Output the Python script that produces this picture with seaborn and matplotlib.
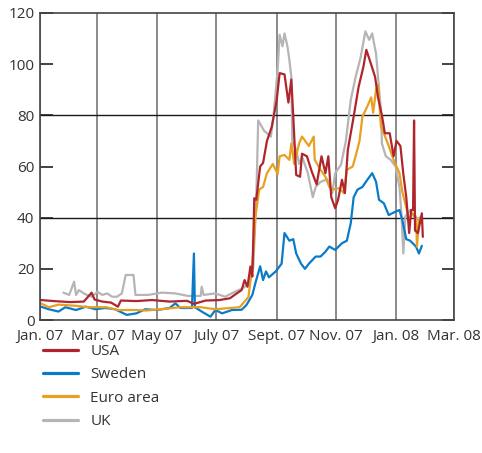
import matplotlib
matplotlib.use("Agg")
import matplotlib.pyplot as plt
import pandas as pd
import seaborn as sns

# --- data (values in basis points) ---
usa_dates = ["2007-01-02", "2007-01-15", "2007-02-01", "2007-02-15", "2007-02-23", "2007-02-26",
             "2007-03-06", "2007-03-15", "2007-03-22", "2007-03-25", "2007-04-10", "2007-04-26",
             "2007-05-14", "2007-06-01", "2007-06-08", "2007-06-20", "2007-07-04", "2007-07-15",
             "2007-07-22", "2007-07-27", "2007-07-30", "2007-08-02", "2007-08-05", "2007-08-07",
             "2007-08-09", "2007-08-11", "2007-08-15", "2007-08-18", "2007-08-22", "2007-08-27",
             "2007-09-01", "2007-09-04", "2007-09-09", "2007-09-13", "2007-09-16", "2007-09-18",
             "2007-09-20", "2007-09-21", "2007-09-25", "2007-09-27", "2007-10-02", "2007-10-07",
             "2007-10-12", "2007-10-17", "2007-10-21", "2007-10-24", "2007-10-27", "2007-10-31",
             "2007-11-03", "2007-11-07", "2007-11-10", "2007-11-13", "2007-11-19", "2007-11-24",
             "2007-11-29", "2007-12-02", "2007-12-06", "2007-12-11", "2007-12-14", "2007-12-18",
             "2007-12-21", "2007-12-26", "2007-12-30", "2008-01-02", "2008-01-06", "2008-01-09",
             "2008-01-12", "2008-01-15", "2008-01-17", "2008-01-19", "2008-01-20", "2008-01-21",
             "2008-01-24", "2008-01-28", "2008-01-29"]
usa_values = [7.8, 7.4, 7.0, 7.2, 10.7, 8.0,
              7.2, 6.8, 5.2, 7.6, 7.4, 7.8,
              7.2, 7.5, 6.3, 7.6, 7.8, 8.5,
              10.4, 11.7, 15.6, 13.0, 20.9, 17.0,
              47.6, 47.0, 60.0, 61.4, 70.0, 75.6,
              86.0, 96.5, 96.0, 85.0, 94.0, 79.5,
              64.0, 56.7, 56.0, 65.0, 64.0, 58.0,
              53.0, 64.0, 57.4, 64.0, 48.0, 43.7,
              47.0, 54.8, 49.6, 66.5, 79.5, 91.0,
              99.0, 105.6, 101.0, 95.0, 87.0, 80.0,
              73.0, 73.0, 64.0, 70.0, 68.0, 57.0,
              48.0, 34.0, 43.0, 43.0, 78.0, 35.0,
              34.0, 41.7, 32.5]

sweden_dates = ["2007-01-02", "2007-01-10", "2007-01-20", "2007-01-27", "2007-02-07", "2007-02-17",
                "2007-02-27", "2007-03-09", "2007-03-19", "2007-03-24", "2007-03-31", "2007-04-10",
                "2007-04-19", "2007-05-01", "2007-05-14", "2007-05-20", "2007-05-25", "2007-06-06",
                "2007-06-08", "2007-06-09", "2007-06-16", "2007-06-25", "2007-06-30", "2007-07-07",
                "2007-07-17", "2007-07-27", "2007-08-01", "2007-08-07", "2007-08-10", "2007-08-15",
                "2007-08-18", "2007-08-21", "2007-08-24", "2007-08-31", "2007-09-06", "2007-09-09",
                "2007-09-14", "2007-09-18", "2007-09-21", "2007-09-26", "2007-09-30", "2007-10-04",
                "2007-10-11", "2007-10-16", "2007-10-21", "2007-10-25", "2007-10-31", "2007-11-07",
                "2007-11-12", "2007-11-16", "2007-11-19", "2007-11-23", "2007-11-28", "2007-12-03",
                "2007-12-08", "2007-12-12", "2007-12-15", "2007-12-20", "2007-12-25", "2007-12-30",
                "2008-01-05", "2008-01-08", "2008-01-12", "2008-01-16", "2008-01-22", "2008-01-25",
                "2008-01-28"]
sweden_values = [5.2, 4.2, 3.3, 5.0, 3.9, 5.2,
                 4.2, 4.7, 4.2, 3.3, 2.0, 2.6,
                 4.2, 3.9, 4.7, 6.5, 4.7, 4.7,
                 26.0, 5.0, 3.3, 1.3, 3.9, 2.6,
                 3.9, 4.0, 5.9, 9.8, 14.3, 21.0,
                 15.6, 19.0, 16.7, 19.0, 22.0, 34.0,
                 31.0, 31.6, 26.0, 22.0, 20.0, 22.0,
                 24.8, 24.8, 26.7, 28.7, 27.4, 30.0,
                 31.0, 37.8, 48.0, 51.0, 52.0, 54.8,
                 57.4, 54.0, 47.0, 45.6, 41.0, 42.0,
                 43.0, 39.0, 31.6, 31.0, 28.7, 26.0,
                 29.0]

euro_dates = ["2007-01-02", "2007-01-10", "2007-01-20", "2007-02-05", "2007-02-20", "2007-03-10",
              "2007-03-22", "2007-04-10", "2007-04-20", "2007-05-05", "2007-05-25", "2007-06-15",
              "2007-06-30", "2007-07-12", "2007-07-25", "2007-08-03", "2007-08-06", "2007-08-08",
              "2007-08-10", "2007-08-14", "2007-08-18", "2007-08-22", "2007-08-28", "2007-09-02",
              "2007-09-04", "2007-09-09", "2007-09-14", "2007-09-16", "2007-09-19", "2007-09-24",
              "2007-09-27", "2007-10-04", "2007-10-09", "2007-10-10", "2007-10-16", "2007-10-21",
              "2007-10-25", "2007-10-28", "2007-11-04", "2007-11-09", "2007-11-12", "2007-11-18",
              "2007-11-21", "2007-11-25", "2007-11-28", "2007-12-03", "2007-12-07", "2007-12-09",
              "2007-12-12", "2007-12-14", "2007-12-17", "2007-12-20", "2007-12-25", "2007-12-30",
              "2008-01-05", "2008-01-08", "2008-01-11", "2008-01-15", "2008-01-18", "2008-01-22",
              "2008-01-23", "2008-01-25", "2008-01-28"]
euro_values = [6.5, 5.0, 6.0, 5.6, 5.0, 5.0,
               3.9, 3.9, 3.7, 4.2, 5.0, 5.0,
               4.2, 4.6, 5.0, 9.0, 18.3, 27.0,
               40.0, 51.0, 52.0, 57.4, 61.0, 57.0,
               64.0, 64.5, 62.6, 69.0, 61.0, 69.0,
               71.7, 68.0, 71.7, 62.6, 58.7, 56.0,
               52.0, 51.0, 51.5, 49.6, 58.7, 60.0,
               64.0, 70.0, 79.5, 83.5, 87.0, 81.0,
               90.0, 92.0, 75.6, 73.0, 68.0, 62.6,
               57.4, 50.0, 45.6, 39.0, 41.7, 40.4,
               28.7, 39.0, 38.0]

uk_dates = ["2007-01-25", "2007-01-31", "2007-02-05", "2007-02-07", "2007-02-10", "2007-02-15",
            "2007-02-18", "2007-02-23", "2007-03-01", "2007-03-06", "2007-03-11", "2007-03-16",
            "2007-03-21", "2007-03-26", "2007-03-30", "2007-04-07", "2007-04-09", "2007-04-22",
            "2007-05-06", "2007-05-20", "2007-06-02", "2007-06-15", "2007-06-16", "2007-06-18",
            "2007-06-30", "2007-07-10", "2007-07-20", "2007-07-28", "2007-08-04", "2007-08-08",
            "2007-08-11", "2007-08-13", "2007-08-19", "2007-08-22", "2007-08-26", "2007-08-29",
            "2007-09-02", "2007-09-04", "2007-09-07", "2007-09-09", "2007-09-12", "2007-09-14",
            "2007-09-16", "2007-09-17", "2007-09-21", "2007-09-24", "2007-09-27", "2007-10-03",
            "2007-10-08", "2007-10-11", "2007-10-16", "2007-10-23", "2007-10-28", "2007-10-31",
            "2007-11-06", "2007-11-11", "2007-11-16", "2007-11-21", "2007-11-26", "2007-12-01",
            "2007-12-05", "2007-12-08", "2007-12-12", "2007-12-14", "2007-12-17", "2007-12-18",
            "2007-12-22", "2007-12-27", "2008-01-01", "2008-01-05", "2008-01-07", "2008-01-09",
            "2008-01-11", "2008-01-16", "2008-01-22", "2008-01-27"]
uk_values = [10.7, 9.8, 15.0, 9.8, 11.7, 10.4,
             9.8, 9.1, 11.0, 9.8, 10.4, 9.1,
             9.1, 10.4, 17.6, 17.6, 9.8, 9.8,
             10.7, 10.4, 9.4, 9.4, 13.0, 9.8,
             10.4, 9.1, 11.0, 12.4, 14.3, 21.0,
             47.0, 78.0, 74.0, 73.0, 71.7, 81.0,
             98.0, 111.5, 107.0, 112.0, 107.0, 101.7,
             95.0, 70.0, 66.5, 61.0, 63.9, 57.4,
             48.0, 52.0, 54.0, 55.0, 49.6, 57.4,
             60.7, 70.0, 86.0, 95.0, 102.4, 112.8,
             109.5, 112.0, 104.0, 95.0, 82.0, 69.0,
             64.0, 62.6, 60.0, 52.0, 41.7, 26.0,
             40.4, 43.0, 39.0, 40.4]

tick_dates = ["2007-01-01", "2007-03-01", "2007-05-01", "2007-07-01",
              "2007-09-01", "2007-11-01", "2008-01-01", "2008-03-01"]
tick_labels = ["Jan. 07", "Mar. 07", "May 07", "July 07",
               "Sept. 07", "Nov. 07", "Jan. 08", "Mar. 08"]

colors = {"USA": "#b0252c", "Sweden": "#0a7bc8", "Euro area": "#e9a020", "UK": "#b5b5b5"}


def make_frame(dates, values):
    return pd.DataFrame({"date": pd.to_datetime(dates), "value": values})


def main():
    sns.set_style("white")
    plt.rcParams["font.family"] = ["Open Sans", "DejaVu Sans"]
    text_color = "#333333"

    fig = plt.figure(figsize=(4.82, 4.53), dpi=100)
    ax = fig.add_axes([40 / 482, 1 - 320 / 453, 414 / 482, 307 / 453])

    series = {
        "USA": make_frame(usa_dates, usa_values),
        "Sweden": make_frame(sweden_dates, sweden_values),
        "Euro area": make_frame(euro_dates, euro_values),
        "UK": make_frame(uk_dates, uk_values),
    }

    # draw order: UK at the back, then Sweden, Euro area, USA
    handles = {}
    for name in ["UK", "Sweden", "Euro area", "USA"]:
        sns.lineplot(data=series[name], x="date", y="value", color=colors[name],
                     linewidth=1.6, ax=ax, label=name)
        handles[name] = ax.get_lines()[-1]

    ticks = pd.to_datetime(tick_dates)
    ax.set_xlim(ticks[0], ticks[-1])
    ax.set_xticks(ticks)
    ax.set_xticklabels(tick_labels)
    ax.set_ylim(0, 120)
    ax.set_yticks(range(0, 121, 20))
    ax.set_xlabel("")
    ax.set_ylabel("")

    ax.xaxis.grid(True, color="#8a8a8a", linewidth=1.4)
    ax.yaxis.grid(False)
    for level in (40, 80):
        ax.axhline(level, color="#1a1a1a", linewidth=1.0, zorder=1)

    ax.tick_params(axis="x", length=0, pad=6.5, labelsize=11, labelcolor=text_color)
    ax.tick_params(axis="y", direction="in", length=9, width=1.2, color="#222222",
                   left=True, right=True, labelleft=True, labelright=False,
                   labelsize=11, labelcolor=text_color, pad=4)
    for side in ["left", "right", "top", "bottom"]:
        ax.spines[side].set_visible(True)
        ax.spines[side].set_color("#444444")
        ax.spines[side].set_linewidth(1.2)

    order = ["USA", "Sweden", "Euro area", "UK"]
    ax.legend([handles[n] for n in order], order, loc="upper left",
              bbox_to_anchor=(43 / 482, 1 - 344 / 453), bbox_transform=fig.transFigure,
              frameon=False, fontsize=11, handlelength=2.3, handletextpad=0.8,
              labelspacing=0.55, borderpad=0, borderaxespad=0, labelcolor=text_color)
    for line in ax.get_legend().get_lines():
        line.set_linewidth(2.3)

    fig.savefig("out.png", dpi=100)


if __name__ == "__main__":
    main()
